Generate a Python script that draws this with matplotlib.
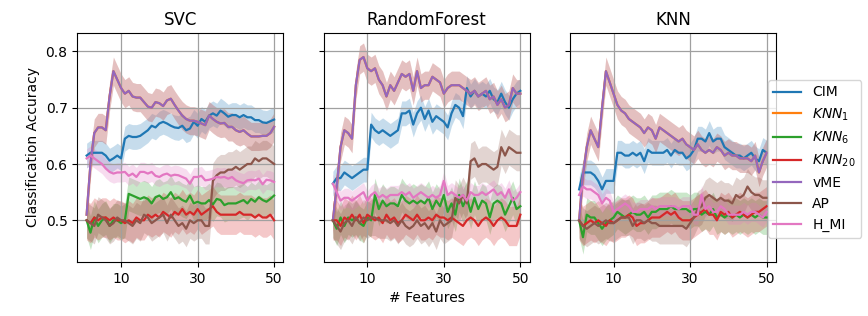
import numpy as np
import matplotlib
matplotlib.use("Agg")
import matplotlib.pyplot as plt

features = np.arange(1, 51)
titles = ["SVC", "RandomForest", "KNN"]
labels = ["CIM", "$KNN_1$", "$KNN_6$", "$KNN_{20}$", "vME", "AP", "H_MI"]
colors = ["C0", "C1", "C2", "C3", "C4", "C5", "C6"]
spread = [0.022, 0.025, 0.03, 0.035, 0.025, 0.032, 0.017]

# ---- SVC ----
svc_cim = [0.615, 0.62, 0.62, 0.62, 0.62, 0.615, 0.606, 0.61, 0.615, 0.61,
           0.645, 0.65, 0.648, 0.648, 0.65, 0.655, 0.66, 0.668, 0.665, 0.672,
           0.675, 0.672, 0.668, 0.665, 0.664, 0.668, 0.66, 0.663, 0.675, 0.668,
           0.68, 0.675, 0.686, 0.69, 0.686, 0.695, 0.69, 0.684, 0.687, 0.687,
           0.683, 0.687, 0.683, 0.683, 0.678, 0.678, 0.674, 0.673, 0.676, 0.679]
svc_vme = [0.51, 0.6, 0.655, 0.665, 0.665, 0.66, 0.72, 0.765, 0.75, 0.735,
           0.725, 0.73, 0.72, 0.718, 0.718, 0.71, 0.702, 0.7, 0.71, 0.708,
           0.703, 0.713, 0.716, 0.705, 0.695, 0.686, 0.68, 0.677, 0.677, 0.675,
           0.672, 0.669, 0.686, 0.68, 0.675, 0.672, 0.673, 0.666, 0.666, 0.66,
           0.657, 0.66, 0.654, 0.649, 0.649, 0.649, 0.65, 0.65, 0.655, 0.666]
svc_knn6 = [0.5, 0.478, 0.505, 0.49, 0.5, 0.505, 0.49, 0.5, 0.5, 0.495,
            0.5, 0.547, 0.544, 0.541, 0.538, 0.541, 0.538, 0.53, 0.541, 0.544,
            0.538, 0.541, 0.55, 0.538, 0.541, 0.536, 0.533, 0.544, 0.53, 0.533,
            0.53, 0.53, 0.536, 0.528, 0.538, 0.536, 0.527, 0.53, 0.53, 0.53,
            0.533, 0.536, 0.53, 0.538, 0.533, 0.541, 0.536, 0.533, 0.538, 0.544]
svc_knn20 = [0.5, 0.495, 0.505, 0.5, 0.505, 0.505, 0.5, 0.505, 0.5, 0.5,
             0.495, 0.5, 0.495, 0.505, 0.5, 0.5, 0.51, 0.505, 0.51, 0.505,
             0.515, 0.51, 0.505, 0.515, 0.51, 0.52, 0.51, 0.515, 0.51, 0.52,
             0.51, 0.515, 0.52, 0.525, 0.515, 0.51, 0.51, 0.51, 0.51, 0.51,
             0.515, 0.51, 0.51, 0.51, 0.505, 0.51, 0.505, 0.505, 0.51, 0.5]
svc_ap = [0.5, 0.495, 0.49, 0.51, 0.505, 0.5, 0.49, 0.495, 0.505, 0.5,
          0.5, 0.495, 0.49, 0.5, 0.495, 0.51, 0.505, 0.495, 0.5, 0.505,
          0.51, 0.495, 0.51, 0.5, 0.49, 0.495, 0.485, 0.5, 0.495, 0.5,
          0.5, 0.49, 0.49, 0.57, 0.58, 0.585, 0.585, 0.59, 0.59, 0.595,
          0.59, 0.595, 0.6, 0.6, 0.61, 0.605, 0.61, 0.61, 0.605, 0.6]
svc_hmi = [0.61, 0.615, 0.61, 0.605, 0.6, 0.592, 0.586, 0.583, 0.585, 0.585,
           0.586, 0.579, 0.583, 0.577, 0.586, 0.586, 0.583, 0.586, 0.579, 0.577,
           0.581, 0.583, 0.579, 0.581, 0.58, 0.577, 0.574, 0.565, 0.577, 0.577,
           0.579, 0.571, 0.572, 0.574, 0.577, 0.576, 0.577, 0.574, 0.577, 0.571,
           0.568, 0.566, 0.571, 0.572, 0.571, 0.574, 0.564, 0.572, 0.571, 0.568]

# ---- RandomForest ----
rf_cim = [0.565, 0.575, 0.575, 0.585, 0.58, 0.575, 0.58, 0.585, 0.59, 0.59,
          0.67, 0.66, 0.655, 0.66, 0.655, 0.65, 0.655, 0.66, 0.69, 0.69,
          0.695, 0.67, 0.69, 0.7, 0.68, 0.695, 0.675, 0.685, 0.68, 0.675,
          0.665, 0.69, 0.705, 0.7, 0.685, 0.735, 0.72, 0.73, 0.72, 0.725,
          0.72, 0.73, 0.715, 0.71, 0.725, 0.71, 0.7, 0.715, 0.725, 0.73]
rf_vme = [0.5, 0.56, 0.63, 0.66, 0.655, 0.645, 0.74, 0.785, 0.79, 0.77,
          0.765, 0.77, 0.75, 0.74, 0.72, 0.74, 0.73, 0.745, 0.76, 0.755,
          0.76, 0.73, 0.765, 0.735, 0.74, 0.74, 0.755, 0.75, 0.745, 0.725,
          0.735, 0.74, 0.74, 0.74, 0.735, 0.73, 0.725, 0.73, 0.72, 0.725,
          0.73, 0.715, 0.72, 0.705, 0.715, 0.7, 0.705, 0.735, 0.725, 0.725]
rf_knn6 = [0.5, 0.485, 0.505, 0.49, 0.505, 0.5, 0.505, 0.495, 0.49, 0.505,
           0.5, 0.545, 0.52, 0.535, 0.525, 0.53, 0.53, 0.525, 0.545, 0.535,
           0.53, 0.535, 0.53, 0.535, 0.53, 0.54, 0.52, 0.535, 0.525, 0.545,
           0.515, 0.53, 0.51, 0.545, 0.525, 0.54, 0.515, 0.54, 0.52, 0.535,
           0.53, 0.505, 0.53, 0.535, 0.53, 0.51, 0.525, 0.54, 0.52, 0.525]
rf_knn20 = [0.5, 0.5, 0.49, 0.505, 0.5, 0.51, 0.5, 0.51, 0.495, 0.51,
            0.505, 0.5, 0.505, 0.495, 0.51, 0.5, 0.505, 0.495, 0.5, 0.51,
            0.505, 0.5, 0.51, 0.5, 0.5, 0.505, 0.5, 0.51, 0.505, 0.505,
            0.5, 0.505, 0.5, 0.495, 0.49, 0.5, 0.505, 0.5, 0.49, 0.5,
            0.505, 0.5, 0.49, 0.5, 0.505, 0.5, 0.49, 0.49, 0.49, 0.51]
rf_ap = [0.5, 0.49, 0.48, 0.495, 0.5, 0.49, 0.505, 0.495, 0.505, 0.5,
         0.505, 0.505, 0.5, 0.5, 0.5, 0.495, 0.5, 0.49, 0.5, 0.49,
         0.485, 0.49, 0.5, 0.49, 0.495, 0.485, 0.495, 0.48, 0.5, 0.49,
         0.495, 0.5, 0.54, 0.53, 0.545, 0.53, 0.605, 0.61, 0.595, 0.6,
         0.6, 0.595, 0.59, 0.595, 0.63, 0.615, 0.63, 0.625, 0.62, 0.62]
rf_hmi = [0.565, 0.55, 0.535, 0.54, 0.54, 0.535, 0.54, 0.545, 0.55, 0.535,
          0.545, 0.55, 0.54, 0.545, 0.54, 0.545, 0.545, 0.545, 0.55, 0.545,
          0.55, 0.54, 0.545, 0.55, 0.545, 0.54, 0.545, 0.54, 0.545, 0.57,
          0.545, 0.55, 0.545, 0.54, 0.545, 0.535, 0.55, 0.545, 0.545, 0.55,
          0.545, 0.55, 0.555, 0.545, 0.55, 0.54, 0.555, 0.535, 0.54, 0.55]

# ---- KNN ----
knn_cim = [0.555, 0.585, 0.585, 0.585, 0.58, 0.57, 0.555, 0.57, 0.57, 0.57,
           0.62, 0.62, 0.615, 0.615, 0.62, 0.615, 0.62, 0.605, 0.625, 0.62,
           0.62, 0.62, 0.62, 0.625, 0.615, 0.625, 0.62, 0.62, 0.61, 0.615,
           0.625, 0.645, 0.645, 0.64, 0.655, 0.64, 0.645, 0.645, 0.63, 0.625,
           0.62, 0.615, 0.615, 0.61, 0.615, 0.62, 0.61, 0.605, 0.625, 0.62]
knn_vme = [0.5, 0.58, 0.63, 0.66, 0.645, 0.63, 0.7, 0.765, 0.745, 0.725,
           0.705, 0.695, 0.69, 0.68, 0.675, 0.67, 0.665, 0.655, 0.665, 0.66,
           0.645, 0.665, 0.66, 0.655, 0.65, 0.645, 0.64, 0.645, 0.635, 0.63,
           0.625, 0.635, 0.625, 0.62, 0.625, 0.62, 0.63, 0.625, 0.615, 0.62,
           0.615, 0.615, 0.61, 0.61, 0.61, 0.605, 0.615, 0.585, 0.605, 0.62]
knn_knn6 = [0.5, 0.47, 0.51, 0.505, 0.505, 0.495, 0.485, 0.495, 0.5, 0.505,
            0.515, 0.51, 0.505, 0.51, 0.515, 0.51, 0.51, 0.515, 0.505, 0.515,
            0.515, 0.52, 0.52, 0.52, 0.525, 0.52, 0.52, 0.52, 0.52, 0.515,
            0.52, 0.52, 0.51, 0.515, 0.51, 0.52, 0.505, 0.51, 0.505, 0.51,
            0.505, 0.51, 0.505, 0.51, 0.505, 0.51, 0.505, 0.51, 0.505, 0.505]
knn_knn20 = [0.5, 0.49, 0.495, 0.5, 0.495, 0.5, 0.495, 0.49, 0.5, 0.495,
             0.5, 0.505, 0.505, 0.51, 0.505, 0.49, 0.495, 0.495, 0.5, 0.505,
             0.505, 0.505, 0.51, 0.515, 0.51, 0.515, 0.505, 0.5, 0.5, 0.5,
             0.505, 0.51, 0.515, 0.52, 0.51, 0.51, 0.5, 0.515, 0.51, 0.515,
             0.505, 0.51, 0.515, 0.51, 0.505, 0.51, 0.515, 0.515, 0.52, 0.525]
knn_ap = [0.5, 0.49, 0.485, 0.49, 0.495, 0.49, 0.495, 0.5, 0.495, 0.495,
          0.5, 0.505, 0.505, 0.505, 0.49, 0.5, 0.5, 0.495, 0.5, 0.495,
          0.495, 0.49, 0.49, 0.49, 0.49, 0.49, 0.49, 0.49, 0.485, 0.495,
          0.505, 0.52, 0.525, 0.54, 0.545, 0.54, 0.535, 0.54, 0.535, 0.535,
          0.53, 0.545, 0.54, 0.545, 0.56, 0.55, 0.545, 0.545, 0.54, 0.54]
knn_hmi = [0.545, 0.56, 0.555, 0.555, 0.55, 0.545, 0.53, 0.54, 0.535, 0.515,
           0.52, 0.525, 0.53, 0.525, 0.515, 0.515, 0.52, 0.52, 0.52, 0.525,
           0.52, 0.525, 0.525, 0.525, 0.525, 0.525, 0.52, 0.525, 0.525, 0.525,
           0.51, 0.51, 0.545, 0.52, 0.525, 0.515, 0.515, 0.525, 0.52, 0.51,
           0.51, 0.51, 0.51, 0.515, 0.51, 0.515, 0.515, 0.51, 0.505, 0.515]

# KNN_1 coincides with vME, so its line is hidden under the vME line
panels = [
    [svc_cim, svc_vme, svc_knn6, svc_knn20, svc_vme, svc_ap, svc_hmi],
    [rf_cim, rf_vme, rf_knn6, rf_knn20, rf_vme, rf_ap, rf_hmi],
    [knn_cim, knn_vme, knn_knn6, knn_knn20, knn_vme, knn_ap, knn_hmi],
]

fig, axes = plt.subplots(1, 3, figsize=(8.68, 3.16), dpi=100, sharey=True)
fig.subplots_adjust(left=0.089, right=0.894, bottom=0.171, top=0.896, wspace=0.194)

for ax, title, series in zip(axes, titles, panels):
    for vals, lab, col, sd in zip(series, labels, colors, spread):
        vals = np.array(vals)
        ax.fill_between(features, vals - sd, vals + sd, color=col, alpha=0.25, linewidth=0)
        ax.plot(features, vals, color=col, lw=1.6, label=lab)
    ax.set_title(title, fontsize=12)
    ax.set_xticks([10, 30, 50])
    ax.set_yticks([0.5, 0.6, 0.7, 0.8])
    ax.grid(True, color='#a0a0a0', lw=0.9)
    ax.set_ylim(0.426, 0.833)

axes[0].set_ylabel('Classification Accuracy')
axes[1].set_xlabel('# Features')
axes[2].legend(loc='center left', bbox_to_anchor=(0.96, 0.45), borderaxespad=0,
               fontsize=10)

fig.savefig('out.png')
